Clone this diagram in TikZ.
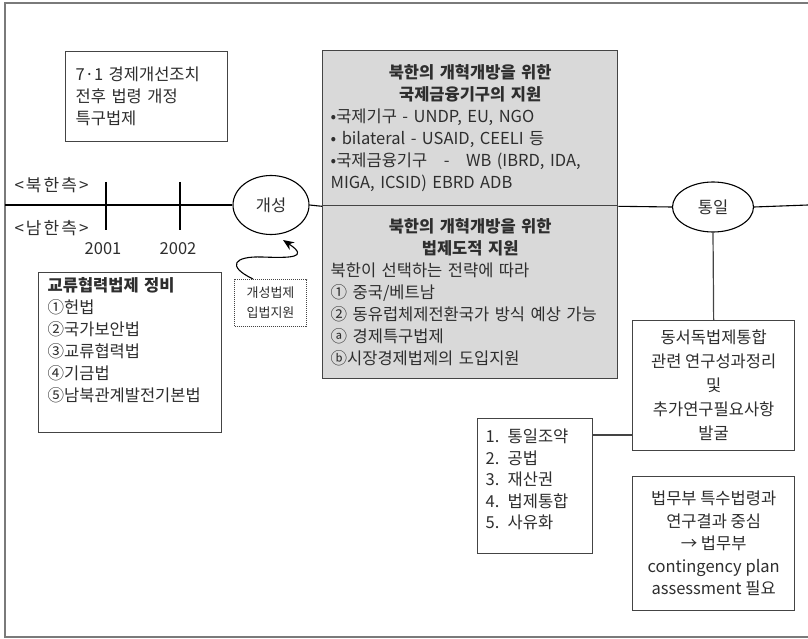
\documentclass[tikz,border=0pt]{standalone}
\usepackage{fontspec}
\setmainfont{Noto Sans CJK KR}
\usetikzlibrary{arrows.meta,shapes.geometric,calc}
\definecolor{txt}{HTML}{2E2E2E}
\definecolor{edge}{HTML}{444444}
\definecolor{grayfill}{HTML}{D9D9D9}
\definecolor{framecol}{HTML}{7A7A7A}
\tikzset{
  every node/.style={font=\fontsize{16.5}{22}\selectfont, text=txt},
  box/.style={draw=edge, line width=1.3pt, fill=white, anchor=north west, inner ysep=4pt},
  graybox/.style={box, fill=grayfill, inner xsep=8pt},
  dotbox/.style={draw=edge, line width=1pt, densely dotted, fill=white, anchor=north west, align=center, inner sep=2pt,
     font=\fontsize{13}{20}\selectfont},
  oval/.style={ellipse, draw=black, line width=1.1pt, fill=white, inner sep=0pt},
  tline/.style={draw=black, line width=1.1pt},
  tick/.style={draw=black, line width=2pt},
  link/.style={draw=edge, line width=1.2pt},
  sidelabel/.style={anchor=west, font=\fontsize{17}{20}\selectfont\addfontfeatures{LetterSpace=12}},
  frameline/.style={draw=framecol, line width=2pt}
}
\begin{document}
\begin{tikzpicture}[x=1pt,y=-1pt]
\useasboundingbox (0,0) rectangle (808,639);
% outer frame
\draw[frameline] (808,3) -- (5,3) -- (5,637) -- (808,637);

% timeline coordinates
\coordinate (tl) at (5,205);
\coordinate (tr) at (808,205);

% 7.1 box
\node[box, inner xsep=10pt, minimum width=162, minimum height=90, text width=142, align=left] (b71) at (65,51)
  {7·1 경제개선조치\\전후 법령 개정\\특구법제};

% gray boxes
\node[graybox, minimum width=295, minimum height=155, text width=279, align=left] (gU) at (322,50)
  {{\centering\bfseries 북한의 개혁개방을 위한\\국제금융기구의 지원\par}
   •국제기구 - UNDP, EU, NGO\\
   • bilateral - USAID, CEELI 등\\
   •국제금융기구\quad -\quad WB (IBRD, IDA,\\
   MIGA, ICSID) EBRD ADB};
\node[graybox, minimum width=295, minimum height=173, text width=279, align=left] (gL) at (322,205)
  {{\centering\bfseries 북한의 개혁개방을 위한\\법제도적 지원\par}
   북한이 선택하는 전략에 따라\\
   ① 중국/베트남\\
   ② 동유럽체제전환국가 방식 예상 가능\\
   ⓐ 경제특구법제\\
   ⓑ시장경제법제의 도입지원};

% ellipses
\node[oval, minimum width=76, minimum height=59] (gs) at (271,205) {개성};
\node[oval, minimum width=81, minimum height=50] (tu) at (713,207) {통일};

% timeline
\draw[tline] (tl) -- (gs.west);
\draw[tline] (gs.east) -- (gU.south west);
\draw[tline] (gU.south east) -- (tu.west);
\draw[tline] (tu.east) -- (tr);

% ticks
\coordinate (t1a) at (106,182); \coordinate (t1b) at (106,230);
\coordinate (t2a) at (180,182); \coordinate (t2b) at (180,230);
\draw[tick] (t1a) -- (t1b);
\draw[tick] (t2a) -- (t2b);
\node (y1) at (103,249) {2001};
\node (y2) at (178,249) {2002};

% side labels
\node[sidelabel] (north) at (11,185) {<북한측>};
\node[sidelabel] (south) at (11,228) {<남한측>};

% left box
\node[box, inner xsep=9pt, minimum width=183, minimum height=160, text width=165, align=left] (lb) at (38,272)
  {\textbf{교류협력법제 정비}\\①헌법\\②국가보안법\\③교류협력법\\④기금법\\⑤남북관계발전기본법\rule[-26pt]{0pt}{1pt}};

% dotted box
\node[dotbox, minimum width=72, minimum height=47] (dt) at (234,279) {개성법제\\입법지원};

% wavy arrow
\coordinate (arrtip) at (283,240);
\draw[draw=black, line width=1.1pt, -{Stealth[length=11pt,width=9pt]}]
  ($(dt.north west)+(19,0)$) .. controls (226,266) and (234,256) .. (262,257)
  .. controls (290,258) and (310,258) .. (arrtip);

% right side
\node[box, minimum width=162, minimum height=130, align=center, font=\fontsize{16.5}{24}\selectfont] (ds) at (632,320)
  {동서독법제통합\\관련 연구성과정리\\및\\추가연구필요사항\\발굴};
\draw[link] (tu.south) -- (ds.north);

\node[box, inner xsep=8pt, minimum width=115, minimum height=135, text width=99, align=left, font=\fontsize{16.5}{21.5}\selectfont] (ls) at (477,418)
  {1. 통일조약\\2. 공법\\3. 재산권\\4. 법제통합\\5. 사유화\rule[-14pt]{0pt}{1pt}};
\coordinate (lc) at ($(ls.north east)+(0,17)$);
\draw[link] (lc) -- (lc -| ds.west);

\node[box, minimum width=162, minimum height=134, align=center, font=\fontsize{16.5}{22.5}\selectfont] (mj) at (632,476)
  {법무부 특수법령과\\연구결과 중심\\→ 법무부\\contingency plan\\assessment 필요};
\end{tikzpicture}
\end{document}
